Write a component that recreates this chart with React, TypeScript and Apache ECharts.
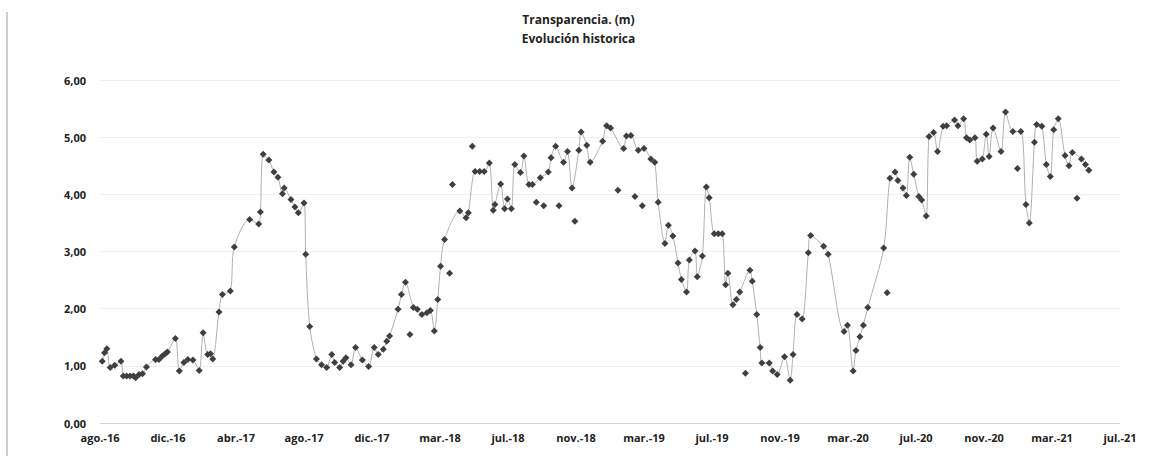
import React, { useEffect, useRef } from "react";
import * as echarts from "echarts";

const titleLines = ["Transparencia. (m)", "Evolución historica"];
const axisStart = "2016-08-08";
const axisSpanDays = 1800;
const tickStepDays = 120;
const monthNames = ["ene", "feb", "mar", "abr", "may", "jun", "jul", "ago", "sep", "oct", "nov", "dic"];
const yMin = 0;
const yMax = 6;
const yStep = 1;

const lineDates = [
  "2016-08-12","2016-08-16","2016-08-20","2016-08-26","2016-09-03","2016-09-14","2016-09-18","2016-09-24","2016-09-30","2016-10-06",
  "2016-10-10","2016-10-16","2016-10-22","2016-10-29","2016-11-14","2016-11-20","2016-11-26","2016-12-01","2016-12-05","2016-12-19",
  "2016-12-26","2017-01-03","2017-01-10","2017-01-19","2017-01-30","2017-02-06","2017-02-14","2017-02-19","2017-02-23","2017-03-06",
  "2017-03-12","2017-03-26","2017-04-02","2017-04-29","2017-05-15","2017-05-18","2017-05-23","2017-06-02","2017-06-11","2017-06-18",
  "2017-06-26","2017-06-29","2017-07-11","2017-07-18","2017-07-24","2017-08-03","2017-08-06","2017-08-13","2017-08-25","2017-09-03",
  "2017-09-12","2017-09-21","2017-09-26","2017-10-05","2017-10-11","2017-10-16","2017-10-25","2017-11-02","2017-11-14","2017-11-25",
  "2017-12-05","2017-12-12","2017-12-21","2017-12-27","2018-01-01","2018-01-16","2018-01-22","2018-01-29","2018-02-12","2018-02-19",
  "2018-02-27","2018-03-08","2018-03-14","2018-03-21","2018-03-27","2018-04-01","2018-04-08","2018-05-05","2018-05-16","2018-05-20",
  "2018-06-01","2018-06-09","2018-06-17","2018-06-26","2018-07-03","2018-07-06","2018-07-16","2018-07-23","2018-07-28","2018-08-04",
  "2018-08-10","2018-08-20","2018-08-26","2018-09-04","2018-09-10","2018-09-24","2018-10-08","2018-10-13","2018-10-21","2018-11-04",
  "2018-11-11","2018-11-19","2018-12-01","2018-12-05","2018-12-15","2018-12-21","2019-01-12","2019-01-19","2019-01-26","2019-02-18",
  "2019-02-23","2019-03-03","2019-03-16","2019-03-26","2019-04-07","2019-04-14","2019-04-20","2019-05-02","2019-05-08","2019-05-16",
  "2019-05-25","2019-05-31","2019-06-09","2019-06-14","2019-06-24","2019-06-28","2019-07-07","2019-07-14","2019-07-19","2019-07-28",
  "2019-08-04","2019-08-11","2019-08-17","2019-08-21","2019-08-30","2019-09-05","2019-09-11","2019-09-29","2019-10-03","2019-10-11",
  "2019-10-17","2019-10-20","2019-11-02","2019-11-08","2019-11-16","2019-11-29","2019-12-09","2019-12-14","2019-12-21","2019-12-30",
  "2020-01-10","2020-01-14","2020-02-06","2020-02-14","2020-03-13","2020-03-19","2020-03-29","2020-04-03","2020-04-10","2020-04-16",
  "2020-04-24","2020-05-22","2020-06-02","2020-06-11","2020-06-16","2020-06-25","2020-07-01","2020-07-07","2020-07-14","2020-07-23",
  "2020-07-28","2020-08-05","2020-08-10","2020-08-18","2020-08-25","2020-09-04","2020-09-10","2020-09-24","2020-09-30","2020-10-10",
  "2020-10-15","2020-10-21","2020-10-30","2020-11-03","2020-11-12","2020-11-19","2020-11-24","2020-12-01","2020-12-15","2020-12-23",
  "2021-01-05","2021-01-19","2021-01-28","2021-02-03","2021-02-12","2021-02-16","2021-02-25","2021-03-05","2021-03-12","2021-03-18",
  "2021-03-26","2021-04-07","2021-04-14","2021-04-20","2021-05-06","2021-05-13","2021-05-19"
];
const lineValues = [
  1.08,1.23,1.30,0.97,1.01,1.08,0.82,0.82,0.82,0.82,
  0.79,0.85,0.86,0.98,1.11,1.11,1.17,1.21,1.24,1.48,
  0.91,1.06,1.11,1.10,0.92,1.58,1.20,1.21,1.12,1.94,
  2.25,2.31,3.08,3.56,3.48,3.69,4.70,4.60,4.39,4.30,
  4.01,4.11,3.91,3.78,3.68,3.85,2.95,1.69,1.12,1.02,
  0.97,1.20,1.06,0.97,1.08,1.14,1.02,1.32,1.10,0.99,
  1.32,1.20,1.29,1.43,1.52,1.99,2.25,2.46,2.02,1.99,
  1.90,1.93,1.97,1.61,2.16,2.74,3.21,3.71,3.59,3.68,
  4.40,4.40,4.40,4.55,3.72,3.82,4.18,3.75,3.92,3.75,
  4.52,4.38,4.67,4.17,4.17,4.29,4.39,4.64,4.84,4.56,
  4.75,4.11,4.77,5.09,4.86,4.56,4.93,5.20,5.16,4.80,
  5.02,5.03,4.77,4.80,4.62,4.56,3.86,3.14,3.46,3.27,
  2.80,2.51,2.29,2.85,3.01,2.56,2.92,4.13,3.94,3.31,
  3.31,3.31,2.42,2.62,2.07,2.16,2.29,2.67,2.48,1.90,
  1.32,1.05,1.05,0.91,0.85,1.16,0.75,1.20,1.90,1.82,
  2.98,3.28,3.09,2.95,1.60,1.71,0.91,1.27,1.51,1.71,
  2.02,3.06,4.28,4.39,4.24,4.11,3.98,4.65,4.35,3.96,
  3.90,3.62,5.01,5.08,4.75,5.19,5.20,5.30,5.20,5.32,
  4.99,4.95,4.99,4.58,4.62,5.05,4.66,5.16,4.75,5.44,
  5.10,5.10,3.82,3.50,4.91,5.22,5.19,4.52,4.31,5.13,
  5.32,4.68,4.50,4.73,4.62,4.52,4.42
];

const extraDates = [
  "2018-02-06","2018-04-17","2018-04-22","2018-05-27","2018-09-17","2018-09-30","2018-10-27","2018-11-24",
  "2019-02-08","2019-03-10","2019-03-23","2019-09-21","2020-05-28","2021-01-13","2021-04-28"
];
const extraValues = [1.55,2.62,4.17,4.84,3.86,3.80,3.80,3.53,4.07,3.96,3.80,0.87,2.28,4.45,3.93];

const DAY = 86400000;
const startMs = Date.parse(axisStart + "T00:00:00Z");
const toDays = (s: string) => (Date.parse(s + "T00:00:00Z") - startMs) / DAY;

const fmtDate = (v: number) => {
  const d = new Date(startMs + Math.round(v) * DAY);
  return monthNames[d.getUTCMonth()] + ".-" + String(d.getUTCFullYear()).slice(2);
};

export default function App() {
  const ref = useRef<HTMLDivElement>(null);
  useEffect(() => {
    if (!ref.current) return;
    const chart = echarts.init(ref.current, null, { renderer: "svg" });
    const font = "'Open Sans', 'DejaVu Sans', sans-serif";
    chart.setOption({
      animation: false,
      backgroundColor: "#ffffff",
      title: {
        text: titleLines.join("\n"),
        left: "center",
        top: 5,
        textStyle: { fontFamily: font, fontSize: 12, fontWeight: "bold", color: "#222", lineHeight: 19 },
      },
      grid: { left: 100, right: 37, top: 80, bottom: 43 },
      xAxis: {
        type: "value",
        min: 0,
        max: axisSpanDays,
        interval: tickStepDays,
        axisLine: { show: true, lineStyle: { color: "#d4d4d4", width: 1 } },
        axisTick: { show: false },
        splitLine: { show: false },
        axisLabel: {
          formatter: (v: number) => fmtDate(v),
          fontFamily: font,
          fontSize: 11,
          fontWeight: "bold",
          color: "#222",
          margin: 9,
        },
      },
      yAxis: {
        type: "value",
        min: yMin,
        max: yMax,
        interval: yStep,
        axisLine: { show: false },
        axisTick: { show: false },
        splitLine: { show: true, lineStyle: { color: "#f0f0f0", width: 1 } },
        axisLabel: {
          formatter: (v: number) => v.toFixed(2).replace(".", ","),
          fontFamily: font,
          fontSize: 11,
          fontWeight: "bold",
          color: "#222",
          margin: 14,
        },
      },
      graphic: [
        { type: "line", shape: { x1: 7, y1: 12, x2: 7, y2: 456 }, style: { stroke: "#bdbdbd", lineWidth: 1.5 } },
      ],
      series: [
        {
          name: "Transparencia",
          type: "line",
          smooth: 0.3,
          data: lineDates.map((d, i) => [toDays(d), lineValues[i]]),
          symbol: "diamond",
          symbolSize: 7,
          itemStyle: { color: "#3f3f3f", opacity: 1 },
          lineStyle: { color: "#b0b0b0", width: 1 },
        },
        {
          name: "Transparencia (aislados)",
          type: "scatter",
          data: extraDates.map((d, i) => [toDays(d), extraValues[i]]),
          symbol: "diamond",
          symbolSize: 7,
          itemStyle: { color: "#3f3f3f", opacity: 1 },
        },
      ],
    });
    return () => chart.dispose();
  }, []);
  return (
    <div
      ref={ref}
      style={{ position: "fixed", left: 0, top: 0, width: 1157, height: 466, background: "#fff" }}
    />
  );
}
